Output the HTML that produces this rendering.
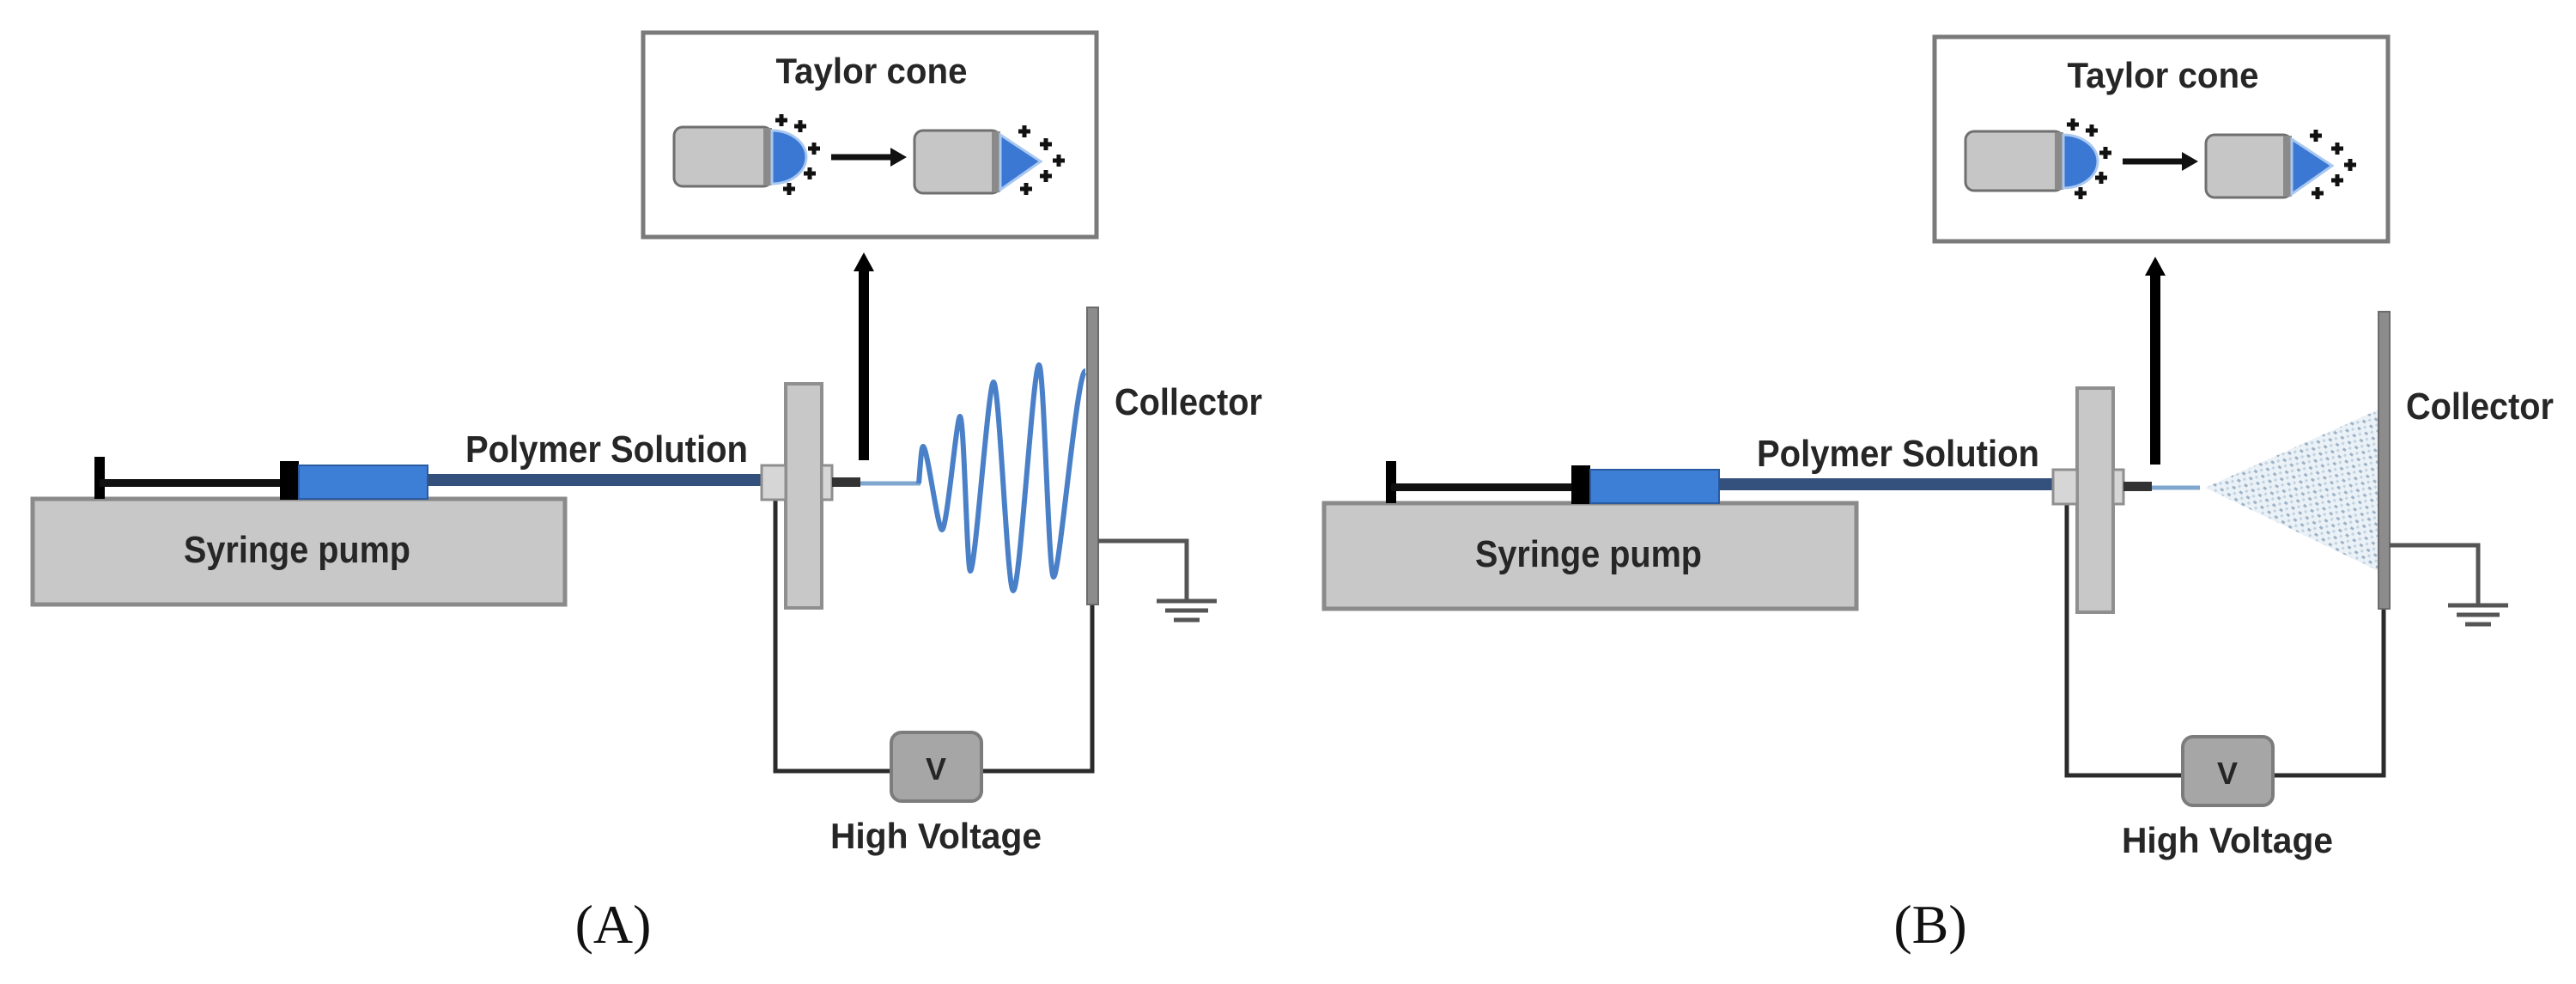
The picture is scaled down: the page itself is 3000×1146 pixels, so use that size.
<!DOCTYPE html>
<html><head><meta charset="utf-8"><style>
html,body{margin:0;padding:0;background:#fff;}
svg{display:block;}
text{font-family:"Liberation Sans Narrow","Liberation Sans",sans-serif;font-weight:bold;fill:#262626;}
.serif{font-family:"Liberation Serif",serif;font-weight:normal;fill:#111;}
</style></head><body>
<svg width="3000" height="1146" viewBox="0 0 3000 1146" xmlns="http://www.w3.org/2000/svg">
<defs>
<pattern id="dots" width="10" height="10" patternUnits="userSpaceOnUse" patternTransform="rotate(35)">
<rect width="10" height="10" fill="#eaf1f7"/>
<rect x="0" y="0" width="4" height="3" fill="#9fb3c6"/>
<rect x="5" y="5" width="3" height="3" fill="#c3d3e0"/>
</pattern>
</defs>

<!-- PANEL A -->
<g id="pa">
<!-- Taylor box -->
<rect x="749" y="38" width="528" height="238" fill="#fff" stroke="#7a7a7a" stroke-width="5"/>
<text x="1015" y="97" font-size="42" text-anchor="middle" textLength="223" lengthAdjust="spacingAndGlyphs">Taylor cone</text>
<!-- left cylinder -->
<rect x="785" y="148" width="114" height="69" rx="10" fill="#c6c6c6" stroke="#6f6f6f" stroke-width="3"/>
<rect x="889" y="149" width="10" height="67" fill="#8a8a8a"/>
<path d="M899,152 A40 31 0 0 1 899,214 Z" fill="#3a78d4" stroke="#a9c8ef" stroke-width="3"/>
<!-- arrow -->
<line x1="968" y1="183" x2="1040" y2="183" stroke="#111" stroke-width="7"/>
<path d="M1037,172 L1056,183 L1037,194 Z" fill="#111"/>
<!-- right cylinder -->
<rect x="1065" y="152" width="100" height="73" rx="10" fill="#c6c6c6" stroke="#6f6f6f" stroke-width="3"/>
<rect x="1155" y="153" width="10" height="71" fill="#8a8a8a"/>
<path d="M1165,157 L1212,188 L1165,221 Z" fill="#3a78d4" stroke="#a9c8ef" stroke-width="3"/>
<g stroke="#111" stroke-width="5">
<path d="M903,140 h14 M910,133 v14"/><path d="M925,147 h14 M932,140 v14"/>
<path d="M941,173 h14 M948,166 v14"/><path d="M936,202 h14 M943,195 v14"/>
<path d="M912,220 h14 M919,213 v14"/>
<path d="M1186,153 h14 M1193,146 v14"/><path d="M1211,168 h14 M1218,161 v14"/>
<path d="M1226,187 h14 M1233,180 v14"/><path d="M1211,205 h14 M1218,198 v14"/>
<path d="M1188,220 h14 M1195,213 v14"/>
</g>
<!-- big arrow -->
<line x1="1006" y1="536" x2="1006" y2="312" stroke="#000" stroke-width="12"/>
<path d="M994,316 L1006,294 L1018,316 Z" fill="#000"/>
<!-- syringe pump -->
<rect x="38" y="581" width="620" height="123" fill="#c8c8c8" stroke="#8a8a8a" stroke-width="5"/>
<text x="346" y="655" font-size="44" text-anchor="middle" textLength="264" lengthAdjust="spacingAndGlyphs">Syringe pump</text>
<rect x="110" y="532" width="12" height="49" fill="#000"/>
<rect x="116" y="558" width="212" height="9" fill="#111"/>
<rect x="326" y="537" width="22" height="45" fill="#000"/>
<rect x="348" y="542" width="150" height="39" fill="#3d7ed6" stroke="#2a5aa0" stroke-width="2"/>
<rect x="498" y="552" width="390" height="14" fill="#34517d"/>
<text x="542" y="538" font-size="44" textLength="329" lengthAdjust="spacingAndGlyphs">Polymer Solution</text>
<!-- wires -->
<path d="M903,582 V898 H1272 V704" fill="none" stroke="#2b2b2b" stroke-width="5"/>
<!-- plate -->
<rect x="915" y="447" width="42" height="261" fill="#c8c8c8" stroke="#8f8f8f" stroke-width="4"/>
<rect x="887" y="542" width="28" height="40" fill="#d6d6d6" stroke="#8f8f8f" stroke-width="3"/>
<rect x="957" y="542" width="12" height="40" fill="#d6d6d6" stroke="#8f8f8f" stroke-width="3"/>
<rect x="969" y="556" width="33" height="11" fill="#333"/>
<!-- collector -->
<rect x="1266" y="358" width="13" height="346" fill="#8c8c8c" stroke="#6c6c6c" stroke-width="2"/>
<text x="1298" y="483" font-size="44" textLength="172" lengthAdjust="spacingAndGlyphs">Collector</text>
<path d="M1279,630 H1382 V700" fill="none" stroke="#555" stroke-width="5"/>
<path d="M1347,700 H1417 M1357,711 H1407 M1367,722 H1397" stroke="#555" stroke-width="5"/>
<!-- V box -->
<rect x="1038" y="853" width="105" height="80" rx="12" fill="#a6a6a6" stroke="#7c7c7c" stroke-width="4"/>
<text x="1090" y="908" font-size="36" text-anchor="middle">V</text>
<text x="1090" y="988" font-size="42" text-anchor="middle" textLength="246" lengthAdjust="spacingAndGlyphs">High Voltage</text>
</g>
<!-- A jet + wave -->
<line x1="1002" y1="563" x2="1072" y2="563" stroke="#7ea6cf" stroke-width="5"/>
<path d="M1070,563 C1072,540 1073,520 1075,520 C1080,520 1092,617 1097,617 C1103,617 1114,485 1118,485 C1123,485 1126,665 1130,665 C1136,665 1151,445 1157,445 C1164,445 1173,688 1180,688 C1188,688 1203,425 1210,425 C1216,425 1221,672 1227,672 C1234,672 1254,432 1264,432" fill="none" stroke="#4a80c8" stroke-width="6" stroke-linejoin="round"/>
<text class="serif" x="714" y="1098" font-size="64" text-anchor="middle">(A)</text>

<!-- PANEL B -->
<g transform="translate(1504,5)">
<rect x="749" y="38" width="528" height="238" fill="#fff" stroke="#7a7a7a" stroke-width="5"/>
<text x="1015" y="97" font-size="42" text-anchor="middle" textLength="223" lengthAdjust="spacingAndGlyphs">Taylor cone</text>
<rect x="785" y="148" width="114" height="69" rx="10" fill="#c6c6c6" stroke="#6f6f6f" stroke-width="3"/>
<rect x="889" y="149" width="10" height="67" fill="#8a8a8a"/>
<path d="M899,152 A40 31 0 0 1 899,214 Z" fill="#3a78d4" stroke="#a9c8ef" stroke-width="3"/>
<line x1="968" y1="183" x2="1040" y2="183" stroke="#111" stroke-width="7"/>
<path d="M1037,172 L1056,183 L1037,194 Z" fill="#111"/>
<rect x="1065" y="152" width="100" height="73" rx="10" fill="#c6c6c6" stroke="#6f6f6f" stroke-width="3"/>
<rect x="1155" y="153" width="10" height="71" fill="#8a8a8a"/>
<path d="M1165,157 L1212,188 L1165,221 Z" fill="#3a78d4" stroke="#a9c8ef" stroke-width="3"/>
<g stroke="#111" stroke-width="5">
<path d="M903,140 h14 M910,133 v14"/><path d="M925,147 h14 M932,140 v14"/>
<path d="M941,173 h14 M948,166 v14"/><path d="M936,202 h14 M943,195 v14"/>
<path d="M912,220 h14 M919,213 v14"/>
<path d="M1186,153 h14 M1193,146 v14"/><path d="M1211,168 h14 M1218,161 v14"/>
<path d="M1226,187 h14 M1233,180 v14"/><path d="M1211,205 h14 M1218,198 v14"/>
<path d="M1188,220 h14 M1195,213 v14"/>
</g>
<line x1="1006" y1="536" x2="1006" y2="312" stroke="#000" stroke-width="12"/>
<path d="M994,316 L1006,294 L1018,316 Z" fill="#000"/>
<rect x="38" y="581" width="620" height="123" fill="#c8c8c8" stroke="#8a8a8a" stroke-width="5"/>
<text x="346" y="655" font-size="44" text-anchor="middle" textLength="264" lengthAdjust="spacingAndGlyphs">Syringe pump</text>
<rect x="110" y="532" width="12" height="49" fill="#000"/>
<rect x="116" y="558" width="212" height="9" fill="#111"/>
<rect x="326" y="537" width="22" height="45" fill="#000"/>
<rect x="348" y="542" width="150" height="39" fill="#3d7ed6" stroke="#2a5aa0" stroke-width="2"/>
<rect x="498" y="552" width="390" height="14" fill="#34517d"/>
<text x="542" y="538" font-size="44" textLength="329" lengthAdjust="spacingAndGlyphs">Polymer Solution</text>
<path d="M903,582 V898 H1272 V704" fill="none" stroke="#2b2b2b" stroke-width="5"/>
<rect x="915" y="447" width="42" height="261" fill="#c8c8c8" stroke="#8f8f8f" stroke-width="4"/>
<rect x="887" y="542" width="28" height="40" fill="#d6d6d6" stroke="#8f8f8f" stroke-width="3"/>
<rect x="957" y="542" width="12" height="40" fill="#d6d6d6" stroke="#8f8f8f" stroke-width="3"/>
<rect x="969" y="556" width="33" height="11" fill="#333"/>
<!-- jet + spray -->
<line x1="1002" y1="563" x2="1058" y2="563" stroke="#7ea6cf" stroke-width="5"/>
<path d="M1064,563 L1266,472 L1266,660 Z" fill="url(#dots)"/>
<rect x="1266" y="358" width="13" height="346" fill="#8c8c8c" stroke="#6c6c6c" stroke-width="2"/>
<text x="1298" y="483" font-size="44" textLength="172" lengthAdjust="spacingAndGlyphs">Collector</text>
<path d="M1279,630 H1382 V700" fill="none" stroke="#555" stroke-width="5"/>
<path d="M1347,700 H1417 M1357,711 H1407 M1367,722 H1397" stroke="#555" stroke-width="5"/>
<rect x="1038" y="853" width="105" height="80" rx="12" fill="#a6a6a6" stroke="#7c7c7c" stroke-width="4"/>
<text x="1090" y="908" font-size="36" text-anchor="middle">V</text>
<text x="1090" y="988" font-size="42" text-anchor="middle" textLength="246" lengthAdjust="spacingAndGlyphs">High Voltage</text>
</g>
<text class="serif" x="2248" y="1098" font-size="64" text-anchor="middle">(B)</text>
</svg>
</body></html>
